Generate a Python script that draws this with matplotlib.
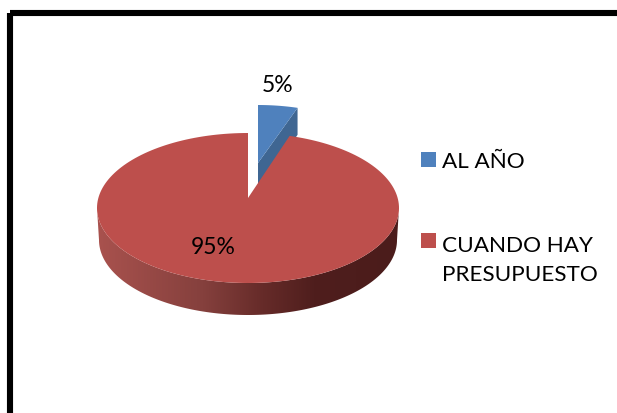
import numpy as np
from matplotlib import pyplot as plt, colors
from matplotlib.patches import Polygon, Rectangle

labels = ["AL AÑO", "CUANDO HAY\nPRESUPUESTO"]
values = [5, 95]
value_labels = ["5%", "95%"]
top_colors = ["#4f81bd", "#bd4f4c"]

plt.rcParams["font.family"] = ["Lato", "DejaVu Sans"]

fig = plt.figure(figsize=(6.17, 4.13), dpi=100)
ax = fig.add_axes([0, 0, 1, 1])

# angles come from the values, first slice starts at 12 o'clock going clockwise
sweep = np.array(values) / sum(values) * 360
a0 = 90
a1 = a0 - sweep[0]


def arc(cx, cy, rx, ry, start, end, n=200):
    t = np.radians(np.linspace(start, end, n))
    return np.column_stack([cx + rx * np.cos(t), cy - ry * np.sin(t)])


#* frame, only left and top end up inside the picture
ax.add_patch(Rectangle((10, 13), 800, 600, fill=False, ec="black", lw=4.4, joinstyle="round"))

#* blue slice, pulled out and further back so it is smaller
bx, by, brx, bry, bdepth = 258, 163, 128, 58, 27
bl_arc = arc(bx, by, brx, bry, a1, a0, 30)
corner = bl_arc[0]
ax.add_patch(Polygon([(bx, by), corner, corner + [0, bdepth], (bx, by + bdepth)], fc="#3f6692", ec="none", zorder=2))
ax.add_patch(Polygon(np.vstack([[(bx, by)], bl_arc]), fc=top_colors[0], ec="none", zorder=3))

#* red side wall with a left to right shading
cx, cy, rx, ry = 248, 208, 151, 75
wall_top = arc(cx, cy, rx, ry, 180, 360)
wall_bottom = arc(cx, cy + 32, rx - 2, ry, 360, 180)
wall = Polygon(np.vstack([wall_top, wall_bottom]), fc="none", ec="none", zorder=4)
ax.add_patch(wall)
shade = colors.LinearSegmentedColormap.from_list(
    "shade", [(0, "#a9524e"), (0.35, "#85403d"), (0.55, "#662b29"), (0.72, "#4f1e1d"), (1, "#4b1c1b")]
)
img = ax.imshow(np.linspace(0, 1, 256)[None, :], cmap=shade, extent=(97, 399, 320, 200), aspect="auto", zorder=4)
img.set_clip_path(wall)

#* red top, apex sits a bit above the ellipse centre like the perspective in the original
red_arc = arc(cx, cy, rx, ry, a1 + 2, a0 - 360)
ax.add_patch(Polygon(np.vstack([red_arc, [(cx, 198)]]), fc=top_colors[1], ec="none", zorder=5))

#* value labels
ax.text(278, 92, value_labels[0], ha="center", va="baseline", fontsize=16.5, color="black", zorder=6)
ax.text(213, 254, value_labels[1], ha="center", va="baseline", fontsize=16.5, color="black", zorder=6)

#* legend
ax.add_patch(Rectangle((421, 152), 15, 15, fc=top_colors[0], ec="none"))
ax.add_patch(Rectangle((421, 233), 15, 15, fc=top_colors[1], ec="none"))
ax.text(442, 168, labels[0], ha="left", va="baseline", fontsize=16.2, color="black")
ax.text(442, 281, labels[1], ha="left", va="baseline", fontsize=16.2, color="black", linespacing=1.58)

ax.set_xlim(0, 617)
ax.set_ylim(413, 0)
ax.axis("off")

fig.savefig("out.png", dpi=100)
